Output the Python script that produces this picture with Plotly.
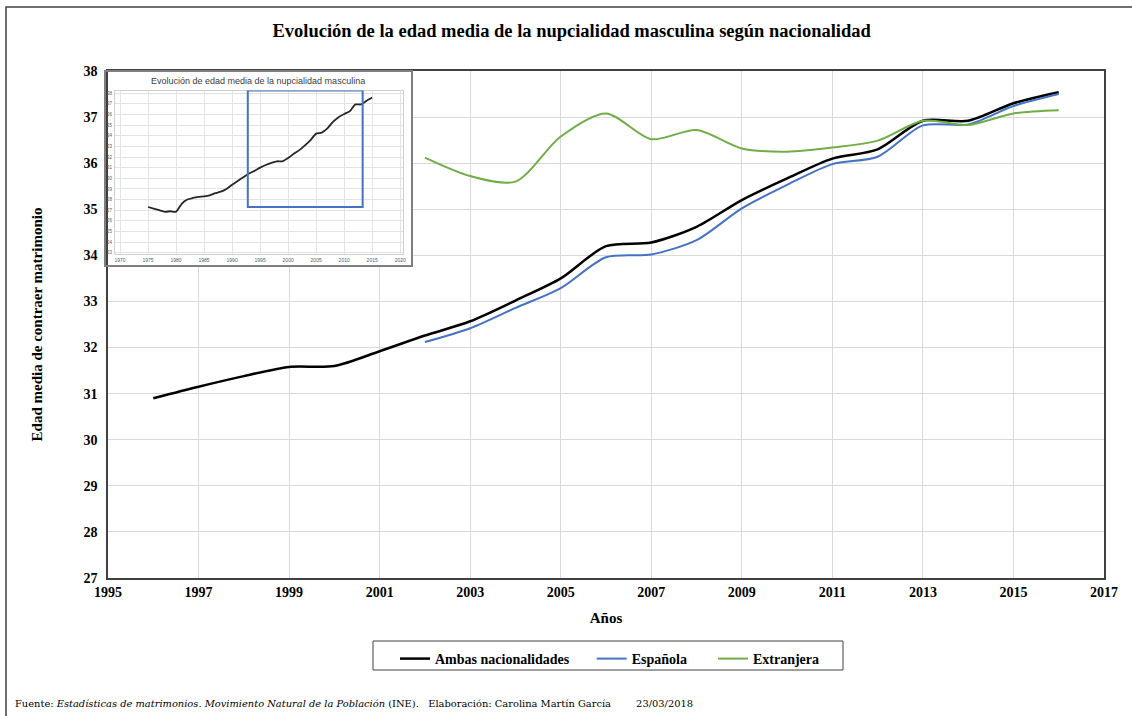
import plotly.graph_objects as go

# ---------------- data ----------------
years = list(range(1996, 2017))
ambas = [30.9, 31.15, 31.38, 31.58, 31.6, 31.92, 32.26, 32.57, 33.02, 33.5, 34.2, 34.28,
         34.62, 35.2, 35.67, 36.1, 36.3, 36.92, 36.92, 37.3, 37.54]
years_nac = list(range(2002, 2017))
espanola = [32.12, 32.42, 32.86, 33.29, 33.96, 34.02, 34.33, 35.02, 35.53, 35.98, 36.14,
            36.82, 36.84, 37.24, 37.5]
extranjera = [36.12, 35.72, 35.6, 36.58, 37.08, 36.52, 36.72, 36.32, 36.25, 36.34, 36.49,
              36.92, 36.83, 37.08, 37.15]

inset_years = list(range(1975, 2016))
inset_vals = [27.3, 27.15, 27.0, 26.85, 26.9, 26.85, 27.6, 28.0, 28.15, 28.25, 28.3, 28.4,
              28.6, 28.75, 29.0, 29.4, 29.75, 30.1, 30.45, 30.7, 31.0, 31.25, 31.45, 31.6,
              31.6, 31.9, 32.3, 32.65, 33.1, 33.6, 34.2, 34.3, 34.7, 35.3, 35.75, 36.05,
              36.3, 36.95, 36.95, 37.3, 37.6]

x_ticks = list(range(1995, 2018, 2))
y_ticks = list(range(27, 39))
inset_x_ticks = list(range(1970, 2021, 5))
inset_y_ticks = list(range(23, 39))

SERIF = "Liberation Serif, Times New Roman, serif"
SANS = "Liberation Sans, Arial, sans-serif"
NB = "&nbsp;"

fig = go.Figure()
fig.add_trace(go.Scatter(x=years, y=ambas, name="<b>Ambas nacionalidades</b>" + NB * 5,
                         mode="lines",
                         line=dict(color="#000000", width=2.5, shape="spline", smoothing=0.8)))
fig.add_trace(go.Scatter(x=years_nac, y=espanola, name="<b>Española</b>" + NB * 6, mode="lines",
                         line=dict(color="#4472C4", width=2, shape="spline", smoothing=0.8)))
fig.add_trace(go.Scatter(x=years_nac, y=extranjera, name="<b>Extranjera</b>", mode="lines",
                         line=dict(color="#70AD47", width=2, shape="spline", smoothing=0.8)))

# inset chart
fig.add_trace(go.Scatter(x=inset_years, y=inset_vals, xaxis="x2", yaxis="y2", mode="lines",
                         showlegend=False, hoverinfo="skip",
                         line=dict(color="#262626", width=1.8, shape="spline", smoothing=0.6)))

W, H = 1132, 716
L, R, T, B = 108, 28, 71, 138
PW, PH = W - L - R, H - T - B


def px(xp):
    return (xp - L) / PW


def py(yp):
    return (H - B - yp) / PH


fig.update_layout(
    width=W, height=H,
    margin=dict(l=L, r=R, t=T, b=B),
    paper_bgcolor="white", plot_bgcolor="white",
    title=dict(text="<b>Evolución de la edad media de la nupcialidad masculina según nacionalidad</b>",
               x=0.505, xanchor="center", y=1 - 31 / H, yanchor="middle",
               font=dict(family=SERIF, size=18.5, color="#000000")),
    xaxis=dict(range=[1995, 2017], tickvals=x_ticks, showgrid=True, gridcolor="#d9d9d9",
               gridwidth=1, showline=True, mirror=True, linecolor="#404040", linewidth=1.5,
               zeroline=False, ticks="",
               tickfont=dict(family=SERIF, size=14, color="#000", weight="bold"),
               title=dict(text="<b>Años</b>", font=dict(family=SERIF, size=15, color="#000"),
                          standoff=14)),
    yaxis=dict(range=[27, 38], tickvals=y_ticks, showgrid=True, gridcolor="#d9d9d9",
               gridwidth=1, showline=True, mirror=True, linecolor="#404040", linewidth=1.5,
               zeroline=False, ticks="", ticklabelstandoff=6,
               tickfont=dict(family=SERIF, size=14, color="#000", weight="bold"),
               title=dict(text="<b>Edad media de contraer matrimonio</b>",
                          font=dict(family=SERIF, size=15, color="#000"), standoff=37)),
    xaxis2=dict(domain=[px(115), px(403)], anchor="y2", range=[1969.1, 2020.5],
                tickvals=inset_x_ticks, showgrid=True, gridcolor="#e3e3e3", gridwidth=1,
                showline=True, mirror=True, linecolor="#d0d0d0", linewidth=1, zeroline=False,
                ticks="", ticklabelstandoff=1, tickfont=dict(family=SANS, size=5, color="#595959")),
    yaxis2=dict(domain=[py(254.3), py(90.6)], anchor="x2", range=[22.85, 38.25],
                tickvals=inset_y_ticks, showgrid=True, gridcolor="#e3e3e3", gridwidth=1,
                showline=True, mirror=True, linecolor="#d0d0d0", linewidth=1, zeroline=False,
                ticks="", ticklabelstandoff=1, tickfont=dict(family=SANS, size=4.5, color="#595959")),
    legend=dict(orientation="h", x=px(395), xanchor="left", y=py(643), yanchor="top",
                borderwidth=0, bgcolor="rgba(0,0,0,0)",
                font=dict(family=SERIF, size=14, color="#000"), itemwidth=30),
    showlegend=True,
)

shapes = [
    # white backing for inset (covers main gridlines, under traces)
    dict(type="rect", xref="x", yref="y", x0=1994.9, x1=1995 + (412 - L) / PW * 22,
         y0=27 + (H - B - 266) / PH * 11, y1=38.2, fillcolor="white",
         line=dict(width=0), layer="between"),
    # inset frame
    dict(type="rect", xref="paper", yref="paper", x0=px(105), x1=px(412), y0=py(266), y1=py(71),
         line=dict(color="#7f7f7f", width=2), fillcolor="rgba(0,0,0,0)", layer="above"),
    # highlight rectangle in inset
    dict(type="rect", xref="x2", yref="y2", x0=1992.8, x1=2013.3, y0=27.3, y1=38.25,
         line=dict(color="#4472C4", width=2), fillcolor="rgba(0,0,0,0)", layer="above"),
    # legend box
    dict(type="rect", xref="paper", yref="paper", x0=px(373), x1=px(843), y0=py(670), y1=py(641),
         line=dict(color="#404040", width=1), fillcolor="rgba(0,0,0,0)", layer="above"),
    # outer frame of the whole picture
    dict(type="rect", xref="paper", yref="paper", x0=px(6), x1=px(1145), y0=py(735), y1=py(7),
         line=dict(color="#404040", width=1.5), fillcolor="rgba(0,0,0,0)", layer="above"),
]
fig.update_layout(shapes=shapes)

fig.add_annotation(text="Evolución de edad media de la nupcialidad masculina", xref="paper",
                   yref="paper", x=px(258), y=py(81), xanchor="center", yanchor="middle",
                   showarrow=False, font=dict(family=SANS, size=9, color="#404040"))

fig.add_annotation(
    text="Fuente: <i>Estadísticas de matrimonios. Movimiento Natural de la Población</i> (INE).   "
         "Elaboración: Carolina Martín García        23/03/2018",
    xref="paper", yref="paper", x=px(13), y=py(703), xanchor="left", yanchor="middle",
    showarrow=False, font=dict(family="DejaVu Serif, serif", size=9.9, color="#000"))

fig.write_html("out.html", config={"displayModeBar": False},
               post_script="document.body.style.margin='0';")
